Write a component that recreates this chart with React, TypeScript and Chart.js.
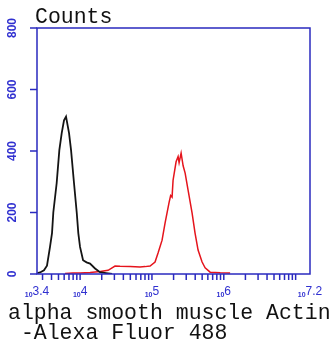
import React, { useEffect, useRef } from 'react';
import { Chart, registerables } from 'chart.js';

Chart.register(...registerables);

// log10 fluorescence values and counts
const blackLog = [3.405, 3.442, 3.497, 3.539, 3.581, 3.609, 3.627, 3.674, 3.711, 3.744, 3.776, 3.804, 3.846, 3.874, 3.915, 3.953, 3.975, 3.999, 4.041, 4.09, 4.138, 4.208, 4.277, 4.361, 4.445];
const blackCounts = [3, 5, 12, 27, 88, 133, 200, 296, 403, 458, 500, 512, 458, 403, 296, 200, 133, 88, 45, 38, 34, 18, 6, 3, 0];

const redLog = [3.79, 3.9, 4.0, 4.14, 4.28, 4.39, 4.445, 4.486, 4.556, 4.695, 4.834, 4.904, 4.974, 5.043, 5.085, 5.141, 5.183, 5.238, 5.26, 5.28, 5.294, 5.336, 5.364, 5.378, 5.406, 5.434, 5.462, 5.503, 5.559, 5.6, 5.642, 5.698, 5.74, 5.81, 5.95, 6.088];
const redCounts = [2, 3, 3, 5, 8, 12, 20, 26, 25, 24, 23, 24, 26, 39, 68, 110, 166, 232, 255, 250, 305, 365, 382, 362, 393, 352, 328, 273, 198, 133, 78, 39, 20, 6, 4, 3];

const yTickValues = [0, 200, 400, 600, 800];
const xMajorValues = [3.4, 4, 5, 6, 7.2];
const xMajorLabels = ['3.4', '4', '5', '6', '7.2'];
const yTitle = 'Counts';
const xTitleLines = ['alpha smooth muscle Actin', ' -Alexa Fluor 488'];

const AXIS = '#2a2abf';
const LABEL = '#3030d0';

const decorPlugin = {
  id: 'decor',
  afterDraw(chart: any) {
    const ctx = chart.ctx;
    const xs = chart.scales.x;
    const ys = chart.scales.y;
    const a = chart.chartArea;
    ctx.save();
    // frame
    ctx.strokeStyle = AXIS;
    ctx.lineWidth = 1.5;
    ctx.strokeRect(a.left, a.top, a.right - a.left, a.bottom - a.top);
    // y ticks
    ctx.fillStyle = LABEL;
    ctx.font = 'bold 12px "Liberation Sans"';
    for (const v of yTickValues) {
      const py = ys.getPixelForValue(v);
      ctx.beginPath();
      ctx.moveTo(a.left - 7, py);
      ctx.lineTo(a.left, py);
      ctx.stroke();
      ctx.save();
      ctx.translate(13, py);
      ctx.rotate(-Math.PI / 2);
      ctx.textAlign = 'center';
      ctx.textBaseline = 'middle';
      ctx.fillText(String(v), 0, 0);
      ctx.restore();
    }
    // x minor/major ticks at k*10^n
    for (let n = 3; n <= 7; n++) {
      for (let k = 1; k <= 9; k++) {
        const v = Math.log10(k * Math.pow(10, n));
        if (v < xs.min - 1e-9 || v > xs.max + 1e-9) continue;
        const px = xs.getPixelForValue(v);
        ctx.beginPath();
        ctx.moveTo(px, a.bottom);
        ctx.lineTo(px, a.bottom + 6);
        ctx.stroke();
      }
    }
    // x labels: small "10" + exponent
    ctx.textBaseline = 'alphabetic';
    xMajorValues.forEach((v, i) => {
      const px = xs.getPixelForValue(v);
      ctx.font = 'bold 7px "Liberation Sans"';
      const w1 = ctx.measureText('10').width;
      ctx.font = '12px "Liberation Sans"';
      const w2 = ctx.measureText(xMajorLabels[i]).width;
      const start = px - (w1 + w2) / 2;
      ctx.font = 'bold 7px "Liberation Sans"';
      ctx.textAlign = 'left';
      ctx.fillText('10', start, 297);
      ctx.font = '12px "Liberation Sans"';
      ctx.fillText(xMajorLabels[i], start + w1, 295);
    });
    // titles
    ctx.fillStyle = '#111';
    ctx.font = '21.5px "Liberation Mono"';
    ctx.textAlign = 'left';
    ctx.fillText(yTitle, 35, 23);
    xTitleLines.forEach((t, i) => {
      ctx.fillText(t, 8, 319 + i * 20);
    });
    ctx.restore();
  },
};

export default function App() {
  const ref = useRef<HTMLCanvasElement | null>(null);
  useEffect(() => {
    document.body.style.margin = '0';
    const canvas = ref.current;
    if (!canvas) return;
    const chart = new Chart(canvas, {
      type: 'line',
      data: {
        datasets: [
          {
            data: blackLog.map((x, i) => ({ x, y: blackCounts[i] })),
            borderColor: '#141414',
            borderWidth: 1.8,
            pointRadius: 0,
            tension: 0,
          },
          {
            data: redLog.map((x, i) => ({ x, y: redCounts[i] })),
            borderColor: '#e5141c',
            borderWidth: 1.5,
            pointRadius: 0,
            tension: 0,
          },
        ],
      },
      options: {
        animation: false,
        responsive: false,
        devicePixelRatio: 1,
        layout: { padding: { left: 37, top: 28, right: 26, bottom: 76 } },
        plugins: { legend: { display: false }, tooltip: { enabled: false } },
        scales: {
          x: { type: 'linear', min: 3.4, max: 7.2, display: false },
          y: { type: 'linear', min: 0, max: 800, display: false },
        },
      },
      plugins: [decorPlugin],
    });
    return () => chart.destroy();
  }, []);
  return (
    <div style={{ width: 336, height: 350, background: '#fff' }}>
      <canvas ref={ref} width={336} height={350} />
    </div>
  );
}
